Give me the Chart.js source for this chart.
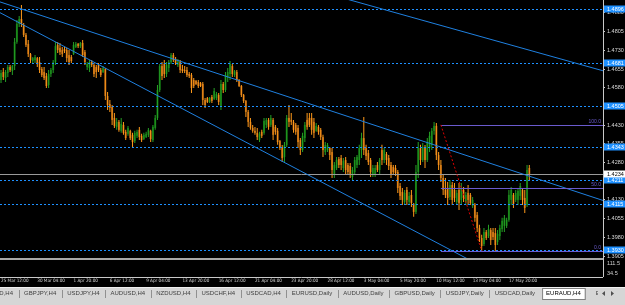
<!DOCTYPE html>
<html><head><meta charset="utf-8">
<script src="https://cdn.jsdelivr.net/npm/chart.js@4.4.1/dist/chart.umd.min.js"></script>
<style>html,body{margin:0;padding:0;background:#000;overflow:hidden}#wrap{position:relative;width:625px;height:305px;background:#000}</style>
</head><body><div id="wrap"><canvas id="c" width="625" height="305"></canvas></div>
<script>
// ---- data (EURAUD, H4) ----
const openP = [1.4611,1.4643,1.4619,1.4639,1.4663,1.4647,1.4667,1.4764,1.4836,1.4856,1.4832,1.4792,1.4756,1.4715,1.4687,1.4691,1.4699,1.4683,1.4655,1.4643,1.4627,1.4591,1.4635,1.4651,1.4683,1.4752,1.4739,1.4731,1.4735,1.4731,1.4711,1.4703,1.4715,1.4743,1.4756,1.4747,1.4760,1.4723,1.4663,1.4659,1.4683,1.4671,1.4663,1.4671,1.4651,1.4643,1.4655,1.4547,1.4515,1.4503,1.4459,1.4423,1.4443,1.4407,1.4431,1.4403,1.4395,1.4407,1.4391,1.4366,1.4387,1.4411,1.4387,1.4374,1.4382,1.4391,1.4407,1.4370,1.4419,1.4459,1.4571,1.4667,1.4675,1.4635,1.4659,1.4683,1.4711,1.4695,1.4671,1.4683,1.4655,1.4651,1.4651,1.4635,1.4631,1.4611,1.4607,1.4603,1.4599,1.4595,1.4531,1.4539,1.4523,1.4543,1.4535,1.4539,1.4551,1.4507,1.4595,1.4571,1.4619,1.4635,1.4667,1.4631,1.4643,1.4611,1.4587,1.4551,1.4527,1.4483,1.4443,1.4419,1.4407,1.4399,1.4370,1.4403,1.4399,1.4431,1.4451,1.4431,1.4451,1.4423,1.4407,1.4366,1.4342,1.4302,1.4350,1.4459,1.4451,1.4443,1.4431,1.4419,1.4370,1.4330,1.4378,1.4451,1.4459,1.4459,1.4443,1.4407,1.4423,1.4411,1.4382,1.4322,1.4330,1.4338,1.4322,1.4230,1.4258,1.4294,1.4298,1.4258,1.4290,1.4270,1.4266,1.4222,1.4242,1.4270,1.4290,1.4330,1.4378,1.4338,1.4318,1.4290,1.4230,1.4234,1.4270,1.4250,1.4330,1.4290,1.4314,1.4298,1.4270,1.4262,1.4258,1.4242,1.4186,1.4162,1.4122,1.4170,1.4122,1.4150,1.4114,1.4082,1.4242,1.4338,1.4290,1.4342,1.4290,1.4338,1.4351,1.4407,1.4427,1.4310,1.4270,1.4218,1.4170,1.4178,1.4142,1.4190,1.4170,1.4122,1.4170,1.4130,1.4170,1.4122,1.4158,1.4150,1.4106,1.4110,1.4070,1.4017,1.3977,1.3953,1.4001,1.3985,1.4009,1.4001,1.3997,1.3961,1.3985,1.4013,1.4026,1.4026,1.4050,1.4130,1.4150,1.4130,1.4130,1.4146,1.4170,1.4138,1.4110,1.4258];
const highP = [1.4651,1.4659,1.4651,1.4671,1.4671,1.4671,1.4780,1.4852,1.4868,1.4912,1.4840,1.4800,1.4772,1.4719,1.4703,1.4711,1.4703,1.4703,1.4663,1.4663,1.4639,1.4651,1.4659,1.4691,1.4764,1.4764,1.4760,1.4743,1.4743,1.4739,1.4731,1.4711,1.4764,1.4764,1.4760,1.4764,1.4772,1.4731,1.4683,1.4691,1.4691,1.4679,1.4671,1.4679,1.4659,1.4667,1.4659,1.4563,1.4531,1.4511,1.4479,1.4459,1.4451,1.4459,1.4443,1.4411,1.4427,1.4411,1.4399,1.4407,1.4411,1.4423,1.4395,1.4399,1.4403,1.4419,1.4411,1.4431,1.4471,1.4591,1.4675,1.4683,1.4691,1.4683,1.4691,1.4719,1.4719,1.4703,1.4695,1.4691,1.4671,1.4667,1.4663,1.4643,1.4639,1.4619,1.4611,1.4611,1.4603,1.4603,1.4539,1.4543,1.4543,1.4551,1.4579,1.4563,1.4559,1.4611,1.4603,1.4643,1.4659,1.4687,1.4675,1.4651,1.4651,1.4615,1.4591,1.4555,1.4531,1.4491,1.4459,1.4431,1.4423,1.4419,1.4403,1.4411,1.4459,1.4459,1.4459,1.4471,1.4459,1.4431,1.4419,1.4370,1.4350,1.4362,1.4471,1.4511,1.4479,1.4451,1.4439,1.4431,1.4378,1.4399,1.4443,1.4479,1.4479,1.4479,1.4459,1.4439,1.4431,1.4419,1.4391,1.4362,1.4358,1.4342,1.4338,1.4282,1.4302,1.4302,1.4310,1.4298,1.4302,1.4278,1.4278,1.4262,1.4302,1.4310,1.4351,1.4399,1.4463,1.4351,1.4330,1.4298,1.4270,1.4270,1.4282,1.4298,1.4351,1.4338,1.4322,1.4310,1.4282,1.4270,1.4270,1.4250,1.4198,1.4178,1.4170,1.4182,1.4162,1.4170,1.4118,1.4270,1.4362,1.4351,1.4358,1.4350,1.4378,1.4403,1.4419,1.4443,1.4439,1.4322,1.4290,1.4230,1.4218,1.4202,1.4210,1.4202,1.4198,1.4170,1.4198,1.4198,1.4182,1.4162,1.4190,1.4158,1.4142,1.4118,1.4082,1.4030,1.3990,1.4017,1.4009,1.4030,1.4017,1.4017,1.4017,1.4009,1.4030,1.4058,1.4070,1.4058,1.4170,1.4182,1.4158,1.4170,1.4178,1.4198,1.4178,1.4170,1.4270,1.4270];
const lowP = [1.4599,1.4611,1.4603,1.4623,1.4643,1.4631,1.4651,1.4756,1.4824,1.4824,1.4784,1.4743,1.4703,1.4679,1.4679,1.4679,1.4663,1.4639,1.4623,1.4611,1.4579,1.4579,1.4623,1.4639,1.4671,1.4719,1.4711,1.4703,1.4719,1.4683,1.4671,1.4679,1.4711,1.4739,1.4739,1.4739,1.4703,1.4671,1.4651,1.4643,1.4663,1.4623,1.4619,1.4643,1.4623,1.4639,1.4531,1.4491,1.4483,1.4431,1.4419,1.4411,1.4403,1.4399,1.4391,1.4370,1.4387,1.4370,1.4342,1.4358,1.4378,1.4370,1.4362,1.4370,1.4378,1.4382,1.4362,1.4362,1.4411,1.4451,1.4563,1.4611,1.4619,1.4623,1.4643,1.4675,1.4683,1.4671,1.4663,1.4639,1.4639,1.4639,1.4623,1.4619,1.4559,1.4579,1.4591,1.4579,1.4583,1.4511,1.4499,1.4519,1.4519,1.4519,1.4531,1.4531,1.4511,1.4491,1.4559,1.4563,1.4603,1.4611,1.4623,1.4623,1.4603,1.4583,1.4543,1.4519,1.4463,1.4423,1.4411,1.4399,1.4391,1.4370,1.4362,1.4378,1.4391,1.4419,1.4411,1.4423,1.4370,1.4391,1.4351,1.4330,1.4282,1.4282,1.4342,1.4423,1.4431,1.4399,1.4391,1.4338,1.4310,1.4322,1.4362,1.4411,1.4423,1.4391,1.4378,1.4403,1.4391,1.4370,1.4302,1.4310,1.4322,1.4290,1.4218,1.4218,1.4250,1.4258,1.4250,1.4242,1.4230,1.4230,1.4218,1.4210,1.4230,1.4258,1.4270,1.4298,1.4310,1.4290,1.4270,1.4222,1.4222,1.4222,1.4242,1.4230,1.4270,1.4278,1.4270,1.4250,1.4218,1.4230,1.4226,1.4158,1.4130,1.4110,1.4110,1.4110,1.4110,1.4102,1.4062,1.4074,1.4218,1.4270,1.4282,1.4258,1.4282,1.4322,1.4330,1.4391,1.4290,1.4250,1.4202,1.4150,1.4138,1.4110,1.4130,1.4110,1.4122,1.4110,1.4090,1.4110,1.4122,1.4110,1.4110,1.4110,1.4098,1.4042,1.4001,1.3961,1.3925,1.3945,1.3969,1.3977,1.3949,1.3969,1.3925,1.3949,1.3969,1.4001,1.4001,1.4017,1.4042,1.4110,1.4098,1.4122,1.4110,1.4130,1.4110,1.4078,1.4102,1.4210];
const closeP = [1.4639,1.4623,1.4643,1.4663,1.4651,1.4667,1.4764,1.4836,1.4856,1.4836,1.4792,1.4752,1.4715,1.4691,1.4699,1.4703,1.4675,1.4651,1.4631,1.4619,1.4587,1.4635,1.4651,1.4683,1.4747,1.4731,1.4723,1.4715,1.4727,1.4699,1.4683,1.4687,1.4752,1.4756,1.4747,1.4760,1.4711,1.4683,1.4675,1.4683,1.4671,1.4635,1.4643,1.4651,1.4631,1.4659,1.4547,1.4511,1.4499,1.4451,1.4427,1.4443,1.4411,1.4435,1.4399,1.4378,1.4419,1.4378,1.4362,1.4399,1.4403,1.4382,1.4370,1.4391,1.4395,1.4411,1.4374,1.4423,1.4459,1.4571,1.4667,1.4627,1.4635,1.4671,1.4683,1.4711,1.4691,1.4679,1.4687,1.4651,1.4647,1.4647,1.4631,1.4627,1.4579,1.4587,1.4595,1.4587,1.4587,1.4531,1.4511,1.4523,1.4539,1.4527,1.4567,1.4555,1.4523,1.4595,1.4571,1.4631,1.4643,1.4675,1.4635,1.4647,1.4611,1.4587,1.4551,1.4527,1.4483,1.4443,1.4419,1.4407,1.4399,1.4382,1.4395,1.4387,1.4447,1.4451,1.4423,1.4459,1.4391,1.4403,1.4362,1.4338,1.4298,1.4350,1.4459,1.4443,1.4443,1.4411,1.4403,1.4362,1.4330,1.4387,1.4431,1.4423,1.4431,1.4411,1.4399,1.4427,1.4403,1.4382,1.4330,1.4350,1.4350,1.4310,1.4250,1.4270,1.4290,1.4270,1.4270,1.4286,1.4250,1.4242,1.4234,1.4250,1.4290,1.4302,1.4338,1.4378,1.4330,1.4306,1.4282,1.4242,1.4258,1.4258,1.4250,1.4290,1.4290,1.4330,1.4290,1.4266,1.4230,1.4242,1.4238,1.4178,1.4146,1.4130,1.4158,1.4130,1.4146,1.4118,1.4082,1.4242,1.4338,1.4290,1.4342,1.4290,1.4362,1.4387,1.4407,1.4427,1.4310,1.4270,1.4218,1.4170,1.4150,1.4138,1.4190,1.4130,1.4138,1.4158,1.4118,1.4178,1.4138,1.4150,1.4130,1.4118,1.4130,1.4058,1.4017,1.3977,1.3945,1.4001,1.3977,1.4013,1.3969,1.3981,1.3949,1.3993,1.4017,1.4046,1.4058,1.4050,1.4150,1.4170,1.4114,1.4158,1.4166,1.4186,1.4130,1.4098,1.4250,1.4234];
const timeTickIdx = [0,16,32,48,64,80,96,112,128,144,160,176,192,208,224];
const timeTickText = ['25 Mar 12:00','30 Mar 04:00','1 Apr 20:00','6 Apr 12:00','9 Apr 04:00','13 Apr 20:00','16 Apr 12:00','21 Apr 04:00','23 Apr 20:00','28 Apr 12:00','3 May 04:00','5 May 20:00','10 May 12:00','13 May 04:00','17 May 20:00'];
const priceTicks = [1.3905,1.3980,1.4055,1.4130,1.4205,1.4280,1.4355,1.4430,1.4505,1.4580,1.4655,1.4730,1.4805,1.4880];
const levelPrices = [1.4896,1.4681,1.4505,1.4343,1.4211,1.4115,1.3930];
const currentPrice = 1.4234;
// trend lines: [barIndex1, price1, barIndex2, price2]
const trendLines = [[0,1.4923,200,1.4324],[0,1.4879,200,1.3921],[150,1.4942,260,1.4662]];
const fibAnchor = [194,1.4431,212,1.3925];
const fibLevels = [0,50,100];
const subTicks = [111.5,34.5];
const tabNames = ['EURUSD,H4','GBPJPY,H4','USDJPY,H4','AUDUSD,H4','NZDUSD,H4','USDCHF,H4','USDCAD,H4','EURUSD,Daily','AUDUSD,Daily','GBPUSD,Daily','USDJPY,Daily','USDCAD,Daily','EURAUD,H4','EURUSD,H4'];
const activeTab = 12;

// ---- styles ----
const BULL_WICK='#25a025', BULL_BODY='#0d640d', BEAR_WICK='#ff9a1a', BEAR_BODY='#9a5210';
const LEVEL_COLOR='#1e90ff', TREND_COLOR='#1f80e0', FIB_COLOR='#6a5acd', FIB_LINE='#e00000';
const AXIS_COLOR='#c8c8c8';
const FONT='"Liberation Sans", Arial, sans-serif';

const idx = openP.map((_, i) => i);
const isBull = i => closeP[i] >= openP[i];

const overlay = {
  id: 'overlay',
  afterDatasetsDraw(chart) {
    const {ctx, chartArea: a, scales: {x, y}} = chart;
    ctx.save();
    ctx.beginPath(); ctx.rect(a.left, a.top, a.right - a.left, a.bottom - a.top); ctx.clip();
    ctx.lineWidth = 1;
    const hline = (py, x0, x1) => { ctx.beginPath(); ctx.moveTo(x0, py); ctx.lineTo(x1, py); ctx.stroke(); };
    ctx.strokeStyle = '#9a9a9a'; ctx.setLineDash([]);
    hline(Math.round(y.getPixelForValue(currentPrice)) + 0.5, a.left, a.right);
    ctx.strokeStyle = LEVEL_COLOR; ctx.setLineDash([2, 2]);
    levelPrices.forEach(p => hline(Math.round(y.getPixelForValue(p)) + 0.5, a.left, a.right));
    ctx.setLineDash([]); ctx.strokeStyle = TREND_COLOR;
    trendLines.forEach(([i1, p1, i2, p2]) => {
      const x1 = x.getPixelForValue(i1), y1 = y.getPixelForValue(p1);
      const x2 = x.getPixelForValue(i2), y2 = y.getPixelForValue(p2);
      const m = (y2 - y1) / (x2 - x1);
      ctx.beginPath(); ctx.moveTo(a.left, y1 + m * (a.left - x1)); ctx.lineTo(a.right, y1 + m * (a.right - x1)); ctx.stroke();
    });
    const [fi1, fp1, fi2, fp2] = fibAnchor;
    const fx1 = x.getPixelForValue(fi1), fx2 = x.getPixelForValue(fi2);
    ctx.strokeStyle = FIB_COLOR; ctx.fillStyle = FIB_COLOR;
    ctx.font = '5px ' + FONT; ctx.textAlign = 'right'; ctx.textBaseline = 'bottom';
    fibLevels.forEach(l => {
      const p = fp2 + (fp1 - fp2) * l / 100;
      const py = Math.round(y.getPixelForValue(p)) + 0.5;
      hline(py, fx1, a.right);
      ctx.fillText(l.toFixed(1), a.right - 2, py - 1);
    });
    ctx.strokeStyle = FIB_LINE; ctx.setLineDash([2, 2]);
    ctx.beginPath(); ctx.moveTo(fx1, y.getPixelForValue(fp1)); ctx.lineTo(fx2, y.getPixelForValue(fp2)); ctx.stroke();
    ctx.restore();
  },
  afterDraw(chart) {
    const {ctx, chartArea: a, scales: {y}, width: W, height: H} = chart;
    ctx.save();
    ctx.font = '5.5px ' + FONT; ctx.textAlign = 'left'; ctx.textBaseline = 'middle';
    const box = (p, bg, fg) => {
      const py = Math.round(y.getPixelForValue(p));
      ctx.fillStyle = bg; ctx.fillRect(a.right + 1, py - 3.5, W - a.right - 1, 7);
      ctx.fillStyle = fg; ctx.fillText(p.toFixed(4), a.right + 4, py + 0.5);
    };
    levelPrices.forEach(p => box(p, LEVEL_COLOR, '#ffffff'));
    box(currentPrice, '#ffffff', '#000000');
    const subTop = a.bottom + 2, subBottom = 277;
    ctx.fillStyle = '#a8a8a8'; ctx.fillRect(0, a.bottom, a.right, 2);
    ctx.strokeStyle = AXIS_COLOR; ctx.lineWidth = 1;
    ctx.beginPath(); ctx.moveTo(a.right + 0.5, a.bottom); ctx.lineTo(a.right + 0.5, subBottom); ctx.stroke();
    ctx.beginPath(); ctx.moveTo(0, subBottom + 0.5); ctx.lineTo(a.right, subBottom + 0.5); ctx.stroke();
    const sMin = 11, sMax = 142;
    ctx.fillStyle = '#d0d0d0';
    subTicks.forEach(v => {
      const py = subTop + (sMax - v) / (sMax - sMin) * (subBottom - subTop);
      ctx.fillText(String(v), a.right + 4, py);
    });
    const tabTop = 287;
    ctx.fillStyle = '#d6d6d6'; ctx.fillRect(0, tabTop, W, H - tabTop);
    ctx.fillStyle = '#f0f0f0'; ctx.fillRect(0, tabTop, W, 1);
    ctx.font = '6px ' + FONT; ctx.textBaseline = 'middle';
    const pad = 5.5, ty = 293.5;
    let tx = 13 - ctx.measureText(tabNames[0]).width;
    ctx.save(); ctx.beginPath(); ctx.rect(0, tabTop, 598, H - tabTop); ctx.clip();
    tabNames.forEach((t, k) => {
      const w = ctx.measureText(t).width;
      if (k === activeTab) {
        ctx.fillStyle = '#ffffff'; ctx.fillRect(tx - 4, tabTop + 1, w + 8, 11);
        ctx.strokeStyle = '#808080'; ctx.strokeRect(tx - 4 + 0.5, tabTop + 1.5, w + 8, 11);
        ctx.fillStyle = '#000000'; ctx.fillText(t, tx, ty);
        tx += w + 2 * pad + 4;
        return;
      }
      ctx.fillStyle = '#404040'; ctx.fillText(t, tx, ty);
      const sx = tx + w + pad;
      if (k + 1 !== activeTab) { ctx.fillStyle = '#909090'; ctx.fillRect(Math.round(sx), tabTop + 3, 1, 8); }
      tx = sx + pad;
    });
    ctx.restore();
    ctx.fillStyle = '#505050';
    ctx.beginPath(); ctx.moveTo(602, ty); ctx.lineTo(605, ty - 2.5); ctx.lineTo(605, ty + 2.5); ctx.fill();
    ctx.beginPath(); ctx.moveTo(614, ty); ctx.lineTo(611, ty - 2.5); ctx.lineTo(611, ty + 2.5); ctx.fill();
    ctx.restore();
  }
};

new Chart(document.getElementById('c'), {
  type: 'bar',
  data: {
    datasets: [
      { label: 'wick', data: idx.map(i => ({x: i, y: [lowP[i], highP[i]]})), barThickness: 1, grouped: false, order: 0,
        backgroundColor: c => isBull(c.dataIndex) ? BULL_WICK : BEAR_WICK, borderWidth: 0, inflateAmount: 0, minBarLength: 1 },
      { label: 'body', data: idx.map(i => ({x: i, y: [openP[i], closeP[i]]})), barThickness: 2, grouped: false, order: 1,
        backgroundColor: c => isBull(c.dataIndex) ? BULL_BODY : BEAR_BODY, borderWidth: 0, inflateAmount: 0, minBarLength: 1 }
    ]
  },
  options: {
    responsive: false, animation: false, events: [],
    layout: { padding: 0 },
    plugins: { legend: { display: false }, tooltip: { enabled: false } },
    scales: {
      x: {
        type: 'linear', min: -0.45, max: 265.5, offset: false,
        grid: { drawOnChartArea: false, drawTicks: true, tickLength: 20, tickColor: 'rgba(0,0,0,0)' }, border: { display: false },
        afterBuildTicks: s => { s.ticks = timeTickIdx.map(v => ({value: v})); },
        afterFit: s => { s.height = 47; s.paddingLeft = 0; s.paddingRight = 0; },
        ticks: { autoSkip: false, maxRotation: 0, align: 'start', padding: 0, color: '#d8d8d8',
          font: { family: '"Liberation Sans Narrow", "DejaVu Sans Condensed", "Liberation Sans", Arial', size: 4.6 },
          callback: v => timeTickText[timeTickIdx.indexOf(v)] }
      },
      y: {
        position: 'right', min: 1.3897, max: 1.4932,
        grid: { drawOnChartArea: false, drawTicks: true, tickLength: 2, color: AXIS_COLOR },
        border: { display: true, color: AXIS_COLOR },
        afterBuildTicks: s => { s.ticks = priceTicks.map(v => ({value: v})); },
        afterFit: s => { s.width = 22; s.paddingTop = 0; s.paddingBottom = 0; },
        ticks: { autoSkip: false, padding: 2, color: '#d8d8d8', font: { family: FONT, size: 5.5 },
          callback: v => v.toFixed(4) }
      }
    }
  },
  plugins: [overlay]
});
</script>
</body></html>
